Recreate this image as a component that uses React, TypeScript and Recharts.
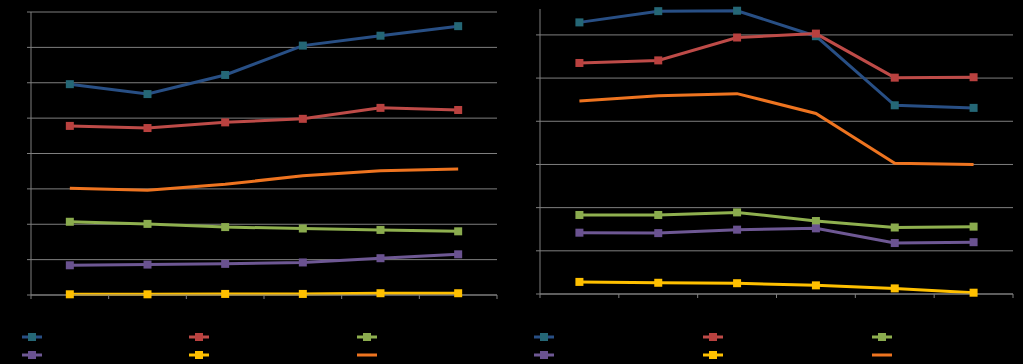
import { LineChart, Line, XAxis, YAxis, CartesianGrid } from 'recharts';

// category labels (rendered black on black, as in the reference)
const categories = ['Category 1', 'Category 2', 'Category 3', 'Category 4', 'Category 5', 'Category 6'];
const seriesNames = ['Series 1', 'Series 2', 'Series 3', 'Series 4', 'Series 5', 'Series 6'];

// left panel
const leftBlue = [5.96, 5.68, 6.22, 7.05, 7.33, 7.6];
const leftRed = [4.78, 4.72, 4.88, 4.98, 5.29, 5.23];
const leftGreen = [2.07, 2.01, 1.92, 1.88, 1.84, 1.8];
const leftPurple = [0.84, 0.86, 0.88, 0.92, 1.04, 1.15];
const leftYellow = [0.02, 0.02, 0.03, 0.03, 0.05, 0.05];
const leftOrange = [3.02, 2.96, 3.13, 3.37, 3.51, 3.56];
const leftTicks = [0, 1, 2, 3, 4, 5, 6, 7, 8];

// right panel
const rightBlue = [6.29, 6.55, 6.56, 5.97, 4.37, 4.31];
const rightRed = [5.35, 5.41, 5.94, 6.03, 5.01, 5.02];
const rightGreen = [1.83, 1.83, 1.89, 1.69, 1.54, 1.56];
const rightPurple = [1.42, 1.41, 1.49, 1.52, 1.18, 1.2];
const rightYellow = [0.28, 0.26, 0.25, 0.2, 0.13, 0.03];
const rightOrange = [4.47, 4.59, 4.64, 4.18, 3.03, 3.0];
const rightTicks = [0, 1, 2, 3, 4, 5, 6];

const boundaryTicks = [-0.5, 0.5, 1.5, 2.5, 3.5, 4.5, 5.5];

const series = [
  { key: 'blue', line: '#284f85', marker: '#256776', square: true },
  { key: 'red', line: '#be4b48', marker: '#b9413f', square: true },
  { key: 'green', line: '#8fb04f', marker: '#8aab4e', square: true },
  { key: 'purple', line: '#6e5894', marker: '#6a5290', square: true },
  { key: 'yellow', line: '#ffc000', marker: '#ffc000', square: true },
  { key: 'orange', line: '#ee7420', marker: '#ee7420', square: false },
];

const GRID = '#7f7f7f';
const FONT = '"Liberation Sans", Arial, sans-serif';

function buildRows(cols: number[][]) {
  return categories.map((name, i) => ({
    idx: i,
    name,
    blue: cols[0][i],
    red: cols[1][i],
    green: cols[2][i],
    purple: cols[3][i],
    yellow: cols[4][i],
    orange: cols[5][i],
  }));
}

const leftRows = buildRows([leftBlue, leftRed, leftGreen, leftPurple, leftYellow, leftOrange]);
const rightRows = buildRows([rightBlue, rightRed, rightGreen, rightPurple, rightYellow, rightOrange]);

const squareDot = (color: string) => (props: any) => {
  const { cx, cy, index } = props;
  if (cx == null || cy == null) return <g key={`d${index}`} />;
  return <rect key={`d${index}`} x={cx - 4} y={cy - 4} width={8} height={8} fill={color} />;
};

const catTick = (halfBand: number) => (props: any) => {
  const { x, y, payload } = props;
  const i = payload.value + 0.5;
  if (i >= categories.length) return <g />;
  return (
    <text x={x + halfBand} y={y + 12} textAnchor="middle" fill="#000" fontSize={10} fontFamily={FONT}>
      {categories[i]}
    </text>
  );
};

// horizontal gridlines, skipping any line drawn at the very top edge of the plot
const gridLine = (top: number) => (props: any) => {
  const { x1, x2, y1, y2, index } = props;
  if (y1 < top + 1) return <g key={`g${index}`} />;
  return <line key={`g${index}`} x1={x1} x2={x2} y1={y1} y2={y2} stroke={GRID} strokeWidth={1} />;
};

interface PanelProps {
  rows: any[];
  width: number;
  yMax: number;
  ticks: number[];
  yWidth: number;
  top: number;
  right: number;
  xHeight: number;
  topLine: boolean;
}

function Panel({ rows, width, yMax, ticks, yWidth, top, right, xHeight, topLine }: PanelProps) {
  const halfBand = (width - yWidth - right) / categories.length / 2;
  return (
    <LineChart width={width} height={364} data={rows} margin={{ top, right, left: 0, bottom: 364 - 300 }}>
      <CartesianGrid vertical={false} stroke={GRID} horizontal={topLine ? true : gridLine(top)} />
      <XAxis
        dataKey="idx"
        type="number"
        domain={[-0.5, 5.5]}
        ticks={boundaryTicks}
        interval={0}
        height={xHeight}
        stroke={GRID}
        tickSize={4}
        tick={catTick(halfBand)}
      />
      <YAxis
        domain={[0, yMax]}
        ticks={ticks}
        interval={0}
        width={yWidth}
        stroke={GRID}
        tickSize={4}
        tick={{ fill: '#000', fontSize: 10, fontFamily: FONT }}
      />
      {series.map((s) => (
        <Line
          key={s.key}
          dataKey={s.key}
          type="linear"
          stroke={s.line}
          strokeWidth={3}
          dot={s.square ? squareDot(s.marker) : false}
          activeDot={false}
          isAnimationActive={false}
        />
      ))}
    </LineChart>
  );
}

// legend order follows the reference: blue, red, green / purple, yellow, orange
const legendOrder = [0, 1, 2, 3, 4, 5];

function LegendIcon({ idx }: { idx: number }) {
  const s = series[idx];
  return (
    <svg width={22} height={10} style={{ display: 'block' }}>
      <line x1={1} y1={5} x2={21} y2={5} stroke={s.line} strokeWidth={3} />
      {s.square && <rect x={7} y={1} width={8} height={8} fill={s.marker} />}
    </svg>
  );
}

function ChartLegend({ left, cols }: { left: number; cols: number[] }) {
  return (
    <>
      {legendOrder.map((idx, n) => (
        <div
          key={idx}
          style={{
            position: 'absolute',
            left: left + cols[n % 3] - 11,
            top: n < 3 ? 331 : 349,
            display: 'flex',
            alignItems: 'center',
            gap: 4,
            fontFamily: FONT,
            fontSize: 11,
            lineHeight: '12px',
            color: '#000',
          }}
        >
          <LegendIcon idx={idx} />
          <span>{seriesNames[idx]}</span>
        </div>
      ))}
    </>
  );
}

export default function App() {
  return (
    <div style={{ width: 1023, height: 364, background: '#000', position: 'relative', overflow: 'hidden' }}>
      <style>{'body{margin:0;background:#000}'}</style>
      <div style={{ position: 'absolute', left: 0, top: 0 }}>
        <Panel rows={leftRows} width={512} yMax={8} ticks={leftTicks} yWidth={31} top={12} right={15} xHeight={5} topLine />
      </div>
      <div style={{ position: 'absolute', left: 512, top: 0 }}>
        <Panel rows={rightRows} width={511} yMax={6.6} ticks={rightTicks} yWidth={28} top={9} right={10} xHeight={6} topLine={false} />
      </div>
      <ChartLegend left={0} cols={[32, 199, 367]} />
      <ChartLegend left={512} cols={[32, 201, 370]} />
    </div>
  );
}
